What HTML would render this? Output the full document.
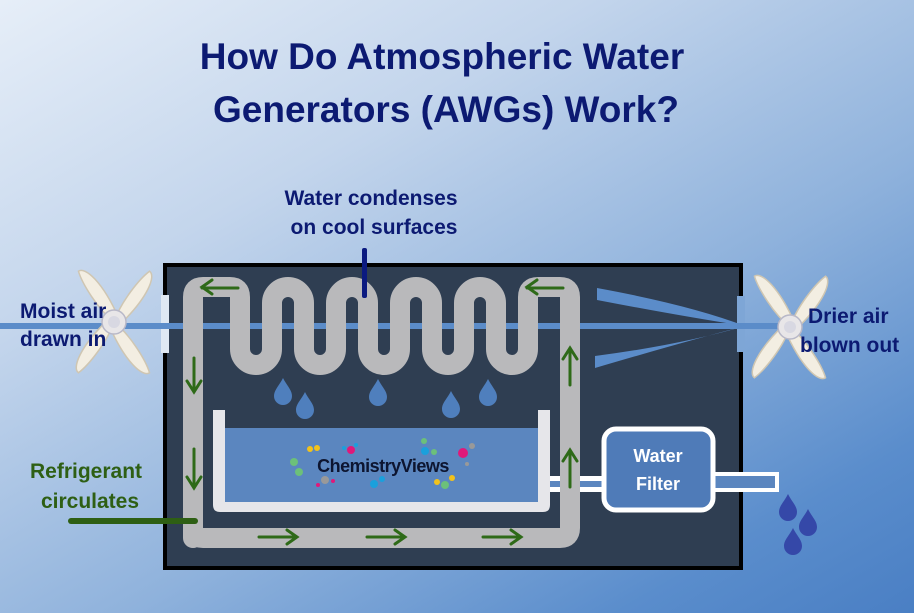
<!DOCTYPE html>
<html><head><meta charset="utf-8"><style>
html,body{margin:0;padding:0;}
body{width:914px;height:613px;overflow:hidden;background:linear-gradient(150deg,#e6eef8 0%,#c3d5ec 30%,#8fb2dc 60%,#5a8dcc 85%,#4a7fc4 100%);font-family:"Liberation Sans",sans-serif;}
svg{position:absolute;left:0;top:0}
</style></head><body>
<svg width="914" height="613" viewBox="0 0 914 613">
<defs>
<g id="fan">
 <g fill="#f3eee2" stroke="#cfc6b2" stroke-width="1.5">
  <path d="M0,0 C-6,-20 -4,-50 0,-62 C8,-62 14,-40 6,0Z" transform="rotate(35)"/>
  <path d="M0,0 C-6,-20 -4,-50 0,-62 C8,-62 14,-40 6,0Z" transform="rotate(-35)"/>
  <path d="M0,0 C-6,-20 -4,-50 0,-62 C8,-62 14,-40 6,0Z" transform="rotate(145)"/>
  <path d="M0,0 C-6,-20 -4,-50 0,-62 C8,-62 14,-40 6,0Z" transform="rotate(-145)"/>
 </g>
 <circle r="12" fill="#e8e6e8" stroke="#b8b8c8" stroke-width="1.5"/>
 <circle r="6" fill="#d8d8e2"/>
</g>
<path id="drop" d="M0,-14 C4,-6 9,-2 9,4 A9,9 0 0 1 -9,4 C-9,-2 -4,-6 0,-14Z"/>
</defs>
<rect x="165" y="265" width="576" height="303" fill="#2f3e52" stroke="#000" stroke-width="4"/>
<rect x="161" y="295" width="8" height="58" fill="#dfe8f3"/>
<rect x="737" y="296" width="8" height="56" fill="#7ea6d6"/>
<rect x="0" y="323" width="785" height="6" fill="#5b8cc9"/>
<path d="M597,288 Q690,305 745,326 Q680,316 597,300Z" fill="#5b8cc9"/>
<path d="M595,368 Q690,340 745,326 Q680,345 595,356Z" fill="#5b8cc9"/>
<path d="M213,410 H225 V502 H538 V410 H550 V505 Q550,512 543,512 H220 Q213,512 213,505Z" fill="#e6e6ea"/>
<rect x="225" y="428" width="313" height="74" fill="#5b86bf"/>
<rect x="550" y="476" width="56" height="16" fill="#fff"/><rect x="550" y="481" width="56" height="6" fill="#5b86bf"/>
<rect x="711" y="474" width="66" height="16" fill="#5b86bf" stroke="#fff" stroke-width="4"/>
<rect x="604" y="429" width="109" height="81" rx="12" fill="#4f7bb8" stroke="#fff" stroke-width="5"/>
<path d="M193,538 V297 Q193,287 203,287 H230 Q240,287 240,297 V349 A16,16 0 0 0 272,349 V303 A16,16 0 0 1 304,303 V349 A16,16 0 0 0 336,349 V303 A16,16 0 0 1 368,303 V349 A16,16 0 0 0 400,349 V303 A16,16 0 0 1 432,303 V349 A16,16 0 0 0 464,349 V303 A16,16 0 0 1 496,303 V349 A16,16 0 0 0 528,349 V297 Q528,287 538,287 H560 Q570,287 570,297 V528 Q570,538 560,538 H203 Q193,538 193,528Z" fill="none" stroke="#b9b9bb" stroke-width="20" stroke-linejoin="round"/>
<g stroke="#2e6a18" stroke-width="3" fill="none" stroke-linecap="round">
 <path d="M238,288 H202 M212,280 L202,287 L212,294"/>
 <path d="M563,288 H527 M537,280 L527,287 L537,294"/>
 <path d="M194,358 V392 M187,381 L194,392 L201,381"/>
 <path d="M194,449 V488 M187,477 L194,488 L201,477"/>
 <path d="M570,385 V348 M563,359 L570,348 L577,359"/>
 <path d="M570,487 V450 M563,461 L570,450 L577,461"/>
 <path d="M259,537 H297 M287,530 L297,537 L287,544"/>
 <path d="M367,537 H405 M395,530 L405,537 L395,544"/>
 <path d="M483,537 H521 M511,530 L521,537 L511,544"/>
</g>
<g fill="#4f7fbd">
 <use href="#drop" x="283" y="392"/><use href="#drop" x="305" y="406"/><use href="#drop" x="378" y="393"/><use href="#drop" x="451" y="405"/><use href="#drop" x="488" y="393"/>
</g>
<g fill="#3548a8">
 <use href="#drop" x="788" y="508"/><use href="#drop" x="808" y="523"/><use href="#drop" x="793" y="542"/>
</g>
<use href="#fan" x="114" y="322"/>
<use href="#fan" x="790" y="327"/>
<rect x="362" y="248" width="5" height="50" rx="2" fill="#0b1a80"/>
<rect x="68" y="518" width="130" height="6" rx="3" fill="#2e5f14"/>
<g>
 <circle cx="310" cy="449" r="3" fill="#f2c21b"/><circle cx="317" cy="448" r="3" fill="#f2c21b"/>
 <circle cx="294" cy="462" r="4" fill="#6cc07a"/><circle cx="299" cy="472" r="4" fill="#6cc07a"/>
 <circle cx="351" cy="450" r="4" fill="#e0197a"/><circle cx="344" cy="448" r="2" fill="#1aa0dc"/><circle cx="356" cy="445" r="2" fill="#1aa0dc"/>
 <circle cx="325" cy="480" r="4" fill="#999"/><circle cx="318" cy="485" r="2" fill="#e0197a"/><circle cx="333" cy="481" r="2" fill="#e0197a"/>
 <circle cx="374" cy="484" r="4" fill="#1aa0dc"/><circle cx="382" cy="479" r="3" fill="#1aa0dc"/>
 <circle cx="425" cy="451" r="4" fill="#1aa0dc"/><circle cx="424" cy="441" r="3" fill="#6cc07a"/><circle cx="434" cy="452" r="3" fill="#6cc07a"/>
 <circle cx="463" cy="453" r="5" fill="#e0197a"/><circle cx="472" cy="446" r="3" fill="#999"/><circle cx="467" cy="464" r="2" fill="#999"/>
 <circle cx="437" cy="482" r="3" fill="#f2c21b"/><circle cx="452" cy="478" r="3" fill="#f2c21b"/><circle cx="445" cy="485" r="4" fill="#6cc07a"/>
</g>
<text x="383" y="472" text-anchor="middle" font-family="Liberation Sans, sans-serif" font-size="18" font-weight="bold" fill="#0d1530" letter-spacing="-0.5">ChemistryViews</text>
<g font-family="Liberation Sans, sans-serif" font-weight="bold">
 <text x="442" y="69" text-anchor="middle" font-size="37" fill="#0c1a72">How Do Atmospheric Water</text>
 <text x="446" y="122" text-anchor="middle" font-size="37" fill="#0c1a72">Generators (AWGs) Work?</text>
 <text x="371" y="205" text-anchor="middle" font-size="21" fill="#0c1a72">Water condenses</text>
 <text x="374" y="234" text-anchor="middle" font-size="21" fill="#0c1a72">on cool surfaces</text>
 <text x="20" y="318" font-size="21" fill="#0c1a72">Moist air</text>
 <text x="20" y="346" font-size="21" fill="#0c1a72">drawn in</text>
 <text x="808" y="323" font-size="21" fill="#0c1a72">Drier air</text>
 <text x="800" y="352" font-size="21" fill="#0c1a72">blown out</text>
 <text x="86" y="478" text-anchor="middle" font-size="21" fill="#2e5f14">Refrigerant</text>
 <text x="90" y="508" text-anchor="middle" font-size="21" fill="#2e5f14">circulates</text>
 <text x="658" y="462" text-anchor="middle" font-size="18" fill="#fff">Water</text>
 <text x="658" y="490" text-anchor="middle" font-size="18" fill="#fff">Filter</text>
</g>
</svg>
</body></html>
